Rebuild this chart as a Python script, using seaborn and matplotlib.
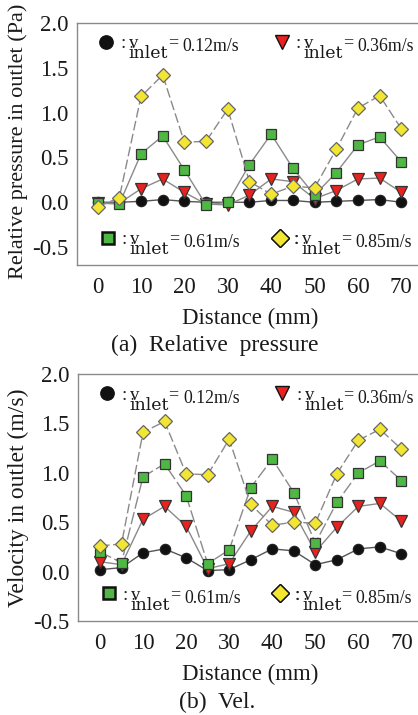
import matplotlib
matplotlib.use("Agg")
import matplotlib.pyplot as plt
from matplotlib.lines import Line2D
import numpy as np
import pandas as pd
import seaborn as sns

# distance along the channel (mm)
distance = [0, 5, 10, 15, 20, 25, 30, 35, 40, 45, 50, 55, 60, 65, 70]

# relative pressure in outlet (Pa)
pressure_012 = [0.00, 0.00, 0.01, 0.03, 0.01, 0.00, 0.00, 0.00, 0.02, 0.02, 0.00, 0.01, 0.02, 0.03, 0.00]
pressure_036 = [-0.01, -0.01, 0.15, 0.26, 0.11, -0.02, -0.03, 0.08, 0.26, 0.23, 0.04, 0.13, 0.26, 0.27, 0.11]
pressure_061 = [-0.01, -0.02, 0.54, 0.74, 0.36, -0.03, 0.00, 0.42, 0.76, 0.38, 0.08, 0.33, 0.64, 0.73, 0.45]
pressure_085 = [-0.05, 0.05, 1.18, 1.42, 0.67, 0.68, 1.04, 0.23, 0.09, 0.18, 0.16, 0.59, 1.05, 1.19, 0.82]

# velocity in outlet (m/s)
velocity_012 = [0.02, 0.04, 0.19, 0.23, 0.14, 0.01, 0.02, 0.12, 0.23, 0.21, 0.07, 0.12, 0.23, 0.25, 0.18]
velocity_036 = [0.10, 0.07, 0.53, 0.66, 0.46, 0.03, 0.08, 0.41, 0.66, 0.60, 0.20, 0.45, 0.66, 0.69, 0.51]
velocity_061 = [0.20, 0.09, 0.96, 1.09, 0.77, 0.08, 0.22, 0.85, 1.14, 0.80, 0.29, 0.70, 1.00, 1.12, 0.92]
velocity_085 = [0.26, 0.28, 1.41, 1.52, 0.99, 0.98, 1.34, 0.68, 0.47, 0.50, 0.49, 0.99, 1.33, 1.44, 1.24]

inlet_labels = ["0.12m/s", "0.36m/s", "0.61m/s", "0.85m/s"]

y_ticks = [-0.5, 0.0, 0.5, 1.0, 1.5, 2.0]
x_ticks = [0, 10, 20, 30, 40, 50, 60, 70]

SERIF = "Liberation Serif"
sns.set_theme(style="white")
plt.rcParams["font.family"] = [SERIF, "DejaVu Serif"]

INK = "#1a1a1a"
GRAY = "#8a8a8a"
series_style = [
    dict(marker="o", mfc="#111111", mec="#222222", ms=7.4, lc="#555555", ls="-"),
    dict(marker="v", mfc="#e8231f", mec="#333333", ms=8.2, lc=GRAY, ls="-"),
    dict(marker="s", mfc="#4fb845", mec="#333333", ms=7.0, lc=GRAY, ls="-"),
    dict(marker="D", mfc="#f2e632", mec="#666666", ms=7.2, lc=GRAY, ls=(0, (7, 2.5))),
]

fig = plt.figure(figsize=(4.18, 7.15), dpi=100)
W, H = 418.0, 715.0


def px_axes(left, top, right, bottom):
    return fig.add_axes([left / W, 1 - bottom / H, (right - left) / W, (bottom - top) / H])


ax_p = px_axes(77, 23, 423, 265)
ax_v = px_axes(78, 374, 423, 621)


def draw_panel(ax, series, ylabel, ylabel_size, xlim, ylim, green_dashed=False):
    for i, (vals, st) in enumerate(zip(series, series_style)):
        df = pd.DataFrame({"distance": distance, "value": vals})
        ls = st["ls"]
        if green_dashed and i == 2:
            ls = (0, (9, 2.5))
        sns.lineplot(data=df, x="distance", y="value", ax=ax, color=st["lc"],
                     linewidth=1.0, linestyle=ls, marker=st["marker"],
                     markerfacecolor=st["mfc"], markeredgecolor=st["mec"],
                     markersize=st["ms"], markeredgewidth=0.9, zorder=2 + i,
                     errorbar=None, legend=False)
    ax.set_xlim(*xlim)
    ax.set_ylim(*ylim)
    ax.set_xticks(x_ticks)
    ax.set_yticks(y_ticks)
    ax.set_yticklabels([f"{t:.1f}" for t in y_ticks])
    ax.tick_params(axis="both", direction="in", colors=GRAY, labelcolor=INK,
                   labelsize=16.5, width=0.9)
    ax.tick_params(axis="x", length=2.5, pad=8.5)
    ax.tick_params(axis="y", length=3.5, pad=6)
    for side in ("left", "bottom", "top"):
        ax.spines[side].set_color(GRAY)
        ax.spines[side].set_linewidth(1.0)
    ax.spines["right"].set_visible(False)
    ax.set_xlabel("Distance (mm)", fontsize=16.5, labelpad=7, color=INK)
    ax.set_ylabel(ylabel, fontsize=ylabel_size, labelpad=3, color=INK)
    ax.grid(False)


def add_key(ax, idx, xa, ya):
    st = series_style[idx]
    handle = Line2D([], [], linestyle="none", marker=st["marker"],
                    markerfacecolor=st["mfc"], markeredgecolor="#111111",
                    markersize=st["ms"] + 2.2, markeredgewidth=1.8 if idx == 2 else 1.0)
    leg = ax.legend(handles=[handle], labels=[":"], loc="center left",
                    bbox_to_anchor=(xa, ya), frameon=False, borderpad=0,
                    handlelength=0.9, handletextpad=0.3, fontsize=13.5,
                    borderaxespad=0)
    leg.set_zorder(10)
    ax.add_artist(leg)
    colon = leg.get_texts()[0]
    base = 0.216 * 13.5  # descent below the colon's baseline, in points
    ax.annotate("v", xy=(1, 0), xycoords=colon, xytext=(2.5, base),
                textcoords="offset points", ha="left", va="baseline",
                fontsize=13.5, color=INK, zorder=11)
    t_in = ax.annotate("inlet", xy=(1, 0), xycoords=colon, xytext=(2.0, base - 7.2),
                       textcoords="offset points", ha="left", va="baseline",
                       fontsize=12.5, family="DejaVu Serif", color=INK, zorder=11)
    t_eq = ax.annotate("=", xy=(1, 0), xycoords=(t_in, colon), xytext=(0.0, base + 0.6),
                       textcoords="offset points", ha="left", va="baseline",
                       fontsize=13, color=INK, zorder=12)
    ax.annotate(inlet_labels[idx], xy=(1, 0), xycoords=(t_eq, colon),
                xytext=(3.0, base - 2.2), textcoords="offset points",
                ha="left", va="baseline", fontsize=12.8, color=INK, zorder=13)


draw_panel(ax_p, [pressure_012, pressure_036, pressure_061, pressure_085],
           "Relative pressure in outlet (Pa)", 16, (-4.75, 75), (-0.7, 2.0))
draw_panel(ax_v, [velocity_012, velocity_036, velocity_061, velocity_085],
           "Velocity in outlet (m/s)", 17, (-5.1, 75), (-0.5, 2.0), green_dashed=True)
ax_p.yaxis.label.set_y(0.51)

for ax in (ax_p, ax_v):
    add_key(ax, 0, 0.06, 0.915)
    add_key(ax, 1, 0.567, 0.915)
    add_key(ax, 2, 0.064, 0.105)
    add_key(ax, 3, 0.561, 0.105)

fig.text(0.513, 1 - 345 / H, "(a)  Relative  pressure", ha="center", va="center",
         fontsize=17, color=INK)
fig.text(0.52, 1 - 702 / H, "(b)  Vel.", ha="center", va="center",
         fontsize=17, color=INK)

fig.canvas.draw()
fig.savefig("out.png", dpi=100)
